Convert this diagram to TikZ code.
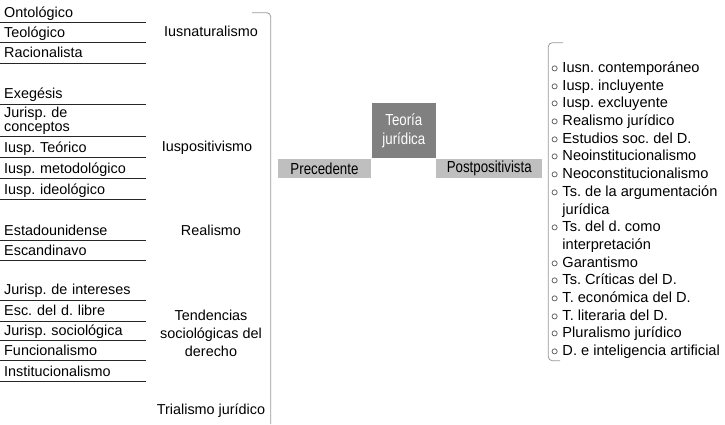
\documentclass[tikz,border=0pt]{standalone}
\usepackage{fontspec}
\setmainfont{Liberation Sans}
\newfontfamily\narrowsans[FakeStretch=0.83]{Liberation Sans}
\frenchspacing

\begin{document}
\begin{tikzpicture}[x=1pt, y=-1pt,
    item/.style={anchor=south west, text width=138pt, inner xsep=4pt,
        inner ysep=1pt, text depth=4pt, align=left,
        font=\fontsize{14.4}{14}\selectfont},
    school/.style={anchor=base, align=center,
        font=\fontsize{14.4}{18}\selectfont},
    rule/.style={line width=0.8pt, black!85},
    bracket/.style={draw=black!40, line width=0.8pt, rounded corners=4pt},
    theory/.style={fill=black!50, text=white, minimum width=64.3pt,
        minimum height=55pt, inner sep=0pt, align=center,
        font=\narrowsans\fontsize{16}{18.4}\selectfont},
    side/.style={fill=black!25, minimum height=19.6pt, inner sep=0pt,
        font=\narrowsans\fontsize{16}{16}\selectfont},
    trend/.style={anchor=west, align=left, inner sep=0pt,
        font=\fontsize{14.6}{17.7}\selectfont}]
    \useasboundingbox (0,0) rectangle (725,424);

    % antecedentes
    \node[item] (ont) at (0,22.3) {Ontológico};
    \node[item] (teo) at (0,42.3) {Teológico};
    \node[item] (rac) at (0,63) {Racionalista};
    \node[item] (exe) at (0,104) {Exegésis};
    \node[item, text depth=18pt] (jcon) at (0,136.7) {Jurisp. de\\conceptos};
    \node[item] (iteo) at (0,157.3) {Iusp. Teórico};
    \node[item] (imet) at (0,178.3) {Iusp. metodológico};
    \node[item] (iide) at (0,199.5) {Iusp. ideológico};
    \node[item] (est) at (0,240.7) {Estadounidense};
    \node[item] (esc) at (0,260.7) {Escandinavo};
    \node[item] (jint) at (0,300) {Jurisp. de intereses};
    \node[item] (elib) at (0,321) {Esc. del d. libre};
    \node[item] (jsoc) at (0,340.7) {Jurisp. sociológica};
    \node[item] (fun) at (0,360.7) {Funcionalismo};
    \node[item] (ins) at (0,381.7) {Institucionalismo};
    \draw[rule]
    (ont.south west) -- (ont.south east)
    (teo.south west) -- (teo.south east)
    (rac.south west) -- (rac.south east)
    (exe.south west) -- (exe.south east)
    (jcon.south west) -- (jcon.south east)
    (iteo.south west) -- (iteo.south east)
    (imet.south west) -- (imet.south east)
    (iide.south west) -- (iide.south east)
    (est.south west) -- (est.south east)
    (esc.south west) -- (esc.south east)
    (jint.south west) -- (jint.south east)
    (elib.south west) -- (elib.south east)
    (jsoc.south west) -- (jsoc.south east)
    (fun.south west) -- (fun.south east)
    (ins.south west) -- (ins.south east);

    \node[school] (nat) at (211,36) {Iusnaturalismo};
    \node[school] (pos) at (207,151) {Iuspositivismo};
    \node[school] (rea) at (211,235) {Realismo};
    \node[school, anchor=center] (soc) at (211,333) {Tendencias\\sociológicas del\\derecho};
    \node[school] (tri) at (211,414) {Trialismo jurídico};
    \draw[bracket] (252,12.7) -- (270.7,12.7) -- (270.7,424);

    % centro
    \node[theory] (teoria) at (403.85,130.8) {Teoría\\jurídica};
    \node[side, minimum width=93.7pt, anchor=north east] (prec) at (teoria.south west) {Precedente};
    \node[side, minimum width=105.7pt, anchor=north west] (post) at (teoria.south east) {Postpositivista};

    % postpositivismo
    \draw[bracket] (563,42.7) -- (548.3,42.7) -- (548.3,360.7) -- (560,360.7);
    \node[trend] (pp) at (551,210.2) {$\circ$ Iusn. contemporáneo\\
        $\circ$ Iusp. incluyente\\
        $\circ$ Iusp. excluyente\\
        $\circ$ Realismo jurídico\\
        $\circ$ Estudios soc. del D.\\
        $\circ$ Neoinstitucionalismo\\
        $\circ$ Neoconstitucionalismo\\
        $\circ$ Ts. de la argumentación\\
        \phantom{$\circ$} jurídica\\
        $\circ$ Ts. del d. como\\
        \phantom{$\circ$} interpretación\\
        $\circ$ Garantismo\\
        $\circ$ Ts. Críticas del D.\\
        $\circ$ T. económica del D.\\
        $\circ$ T. literaria del D.\\
        $\circ$ Pluralismo jurídico\\
        $\circ$ D. e inteligencia artificial};
\end{tikzpicture}
\end{document}
